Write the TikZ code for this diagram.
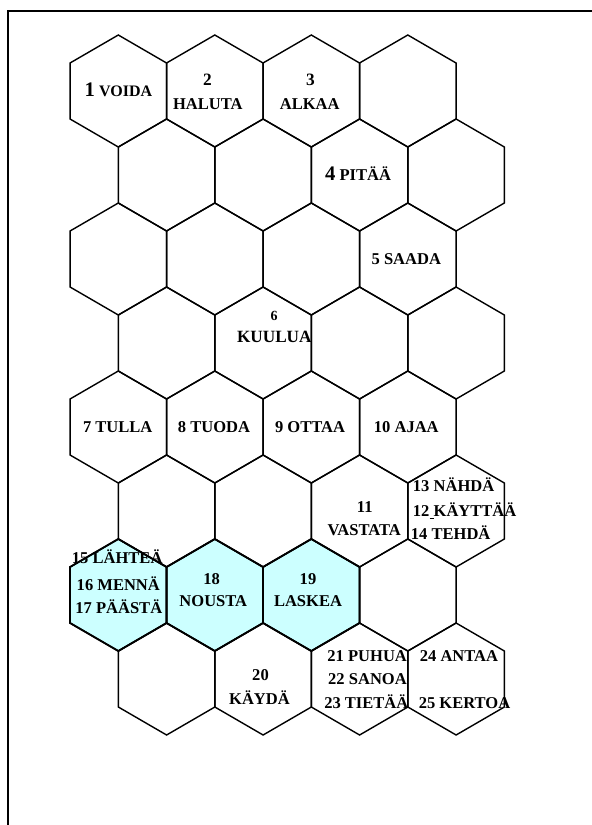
\documentclass[tikz,border=0pt]{standalone}
\usepackage{fontspec}
\setmainfont{Liberation Serif}
\definecolor{hexcyan}{HTML}{CCFFFF}
\tikzset{
  hexline/.style={line width=1.05pt, line join=miter},
  cyanline/.style={line width=1.4pt, line join=miter},
  txt/.style={anchor=base, inner sep=0pt, font=\bfseries\fontsize{12.4}{14}\selectfont},
  txtl/.style={txt, anchor=base west},
  frame/.style={line width=1.5pt}
}
\newcommand\bigdigit[1]{{\fontsize{15.5}{16}\selectfont #1}}
\newcommand\smalldigit[1]{{\fontsize{10.5}{12}\selectfont #1}}
\begin{document}
\begin{tikzpicture}[x=0.75pt,y=-0.75pt]
\useasboundingbox (0,0) rectangle (592,825);
% frame (only top and left visible)
\draw[frame] (8.3,825) -- (8.3,10.5) -- (592,10.5);
% cyan fills
\foreach \x/\y in {118.3/595, 214.8/595, 311.3/595}
  \fill[hexcyan, shift={(\x,\y)}] (0,-56) -- (48.25,-28) -- (48.25,28) -- (0,56) -- (-48.25,28) -- (-48.25,-28) -- cycle;
% hexagon outlines
\foreach \y in {91,259,427,595}
  \foreach \x in {118.3,214.8,311.3,407.8}
    \draw[hexline, shift={(\x,\y)}] (0,-56) -- (48.25,-28) -- (48.25,28) -- (0,56) -- (-48.25,28) -- (-48.25,-28) -- cycle;
\foreach \y in {175,343,511,679}
  \foreach \x in {166.6,263.1,359.6,456.1}
    \draw[hexline, shift={(\x,\y)}] (0,-56) -- (48.25,-28) -- (48.25,28) -- (0,56) -- (-48.25,28) -- (-48.25,-28) -- cycle;
\foreach \x/\y in {118.3/595, 214.8/595, 311.3/595}
  \draw[cyanline, shift={(\x,\y)}] (0,-56) -- (48.25,-28) -- (48.25,28) -- (0,56) -- (-48.25,28) -- (-48.25,-28) -- cycle;
% labels
\node[txt] (t1) at (118.4,96) {\bigdigit{1} {\fontsize{12}{14}\selectfont VOIDA}};
\node[txt] (t2a) at (207.5,85) {\fontsize{13}{14}\selectfont 2};
\node[txt] (t2b) at (207.8,109) {HALUTA};
\node[txt] (t3a) at (310.5,85) {\fontsize{13}{14}\selectfont 3};
\node[txt] (t3b) at (309.7,109) {ALKAA};
\node[txt] (t4) at (358,180.7) {\bigdigit{4} PITÄÄ};
\node[txt] (t5) at (406.3,264) {5 SAADA};
\node[txt] (t6a) at (274,320) {\smalldigit{6}};
\node[txt] (t6b) at (274.3,342.7) {\fontsize{12.9}{14}\selectfont KUULUA};
\node[txt] (t7) at (117.7,432.7) {7 TULLA};
\node[txt] (t8) at (214,432.7) {8 TUODA};
\node[txt] (t9) at (310,432.7) {9 OTTAA};
\node[txt] (t10) at (406.3,432.7) {10 AJAA};
\node[txt] (t11a) at (364.7,512.7) {11};
\node[txt] (t11b) at (364.2,535.7) {VASTATA};
\node[txtl] (t13) at (412.7,491.7) {13 NÄHDÄ};
\node[txtl] (t12) at (412.7,516.7) {12\underline{\ }KÄYTTÄÄ};
\node[txtl] (t14) at (410.7,539.3) {14 TEHDÄ};
\node[txt] (t15) at (117.2,563.3) {15 LÄHTEÄ};
\node[txt] (t16) at (118.3,590) {16 MENNÄ};
\node[txt] (t17) at (118.8,613.3) {17 PÄÄSTÄ};
\node[txt] (t18a) at (211.7,584.3) {18};
\node[txt] (t18b) at (213.3,606.7) {NOUSTA};
\node[txt] (t19a) at (308,584.3) {19};
\node[txt] (t19b) at (308,606.7) {LASKEA};
\node[txt] (t20a) at (260.5,680) {20};
\node[txt] (t20b) at (259.5,704) {KÄYDÄ};
\node[txt] (t21) at (367.2,661.7) {21 PUHUA};
\node[txt] (t22) at (367.5,684) {22 SANOA};
\node[txt] (t23) at (366.3,708.3) {23 TIETÄÄ};
\node[txt] (t24) at (459,661.7) {24 ANTAA};
\node[txt] (t25) at (464.5,708.3) {25 KERTOA};
\end{tikzpicture}
\end{document}
